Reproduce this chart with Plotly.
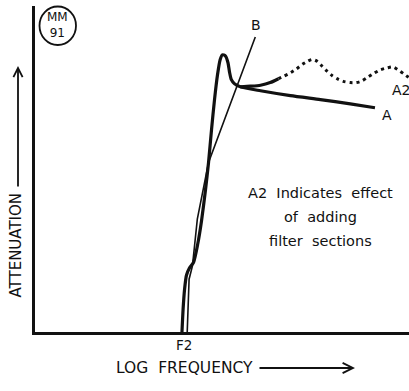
import plotly.graph_objects as go

# Axis units: log frequency 0-100 along x, attenuation 0-100 up y
curve_a_x = [39.3, 39.6, 40.0, 40.5, 41.3, 42.4, 43.5, 44.5, 45.6, 46.4, 47.2, 48.0,
             48.8, 49.5, 50.1, 50.9, 51.6, 52.0, 52.5, 53.3, 54.9, 60.3, 68.3, 76.3,
             84.3, 90.9]
curve_a_y = [0.0, 7.0, 13.2, 17.4, 19.6, 21.4, 26.9, 33.9, 43.7, 52.0, 62.1, 71.3,
             78.9, 83.5, 85.0, 84.7, 82.6, 79.8, 77.4, 76.2, 75.2, 74.0, 72.5, 71.3,
             70.0, 68.8]

a2_solid_x = [54.9, 57.6, 60.3, 62.9, 65.1]
a2_solid_y = [75.2, 75.4, 75.7, 76.5, 77.7]

a2_dotted_x = [65.1, 66.4, 68.3, 69.9, 71.5, 72.8, 74.1, 75.5, 76.8, 78.1, 79.5, 80.8,
               82.4, 84.3, 85.9, 87.2, 88.8, 90.4, 92.3, 94.1, 95.7, 97.1, 98.7, 100.0]
a2_dotted_y = [77.7, 78.4, 79.5, 80.7, 82.1, 83.0, 83.6, 83.0, 81.5, 80.0, 78.6, 77.7,
               76.9, 76.5, 76.5, 76.9, 78.0, 79.2, 80.4, 81.0, 81.3, 80.4, 79.1, 78.0]

line_b_x = [40.7, 41.2, 42.1, 43.4, 46.4, 58.9]
line_b_y = [0.0, 16.2, 20.3, 34.6, 52.0, 90.5]

curve_labels = ["B", "A", "A2"]
curve_label_x = [59.2, 94.1, 95.0]
curve_label_y = [94.2, 66.7, 74.3]

note_lines = ["A2\u00a0 Indicates\u00a0 effect", "of\u00a0 adding", "filter\u00a0 sections"]
note_x = 76.3
note_y = [42.6, 35.3, 27.9]

cutoff_label = "F2"

ink = "#111111"
font = "DejaVu Sans"

# plot area in page pixels, used to place the outer titles in paper units
left, top, width, height = 35, 6, 374, 326


def px(x):
    return (x - left) / width


def py(y):
    return (top + height - y) / height


fig = go.Figure()
fig.add_trace(go.Scatter(x=curve_a_x, y=curve_a_y, mode="lines",
                         line=dict(color=ink, width=3.2, shape="spline", smoothing=0.6)))
fig.add_trace(go.Scatter(x=a2_solid_x, y=a2_solid_y, mode="lines",
                         line=dict(color=ink, width=3.2, shape="spline", smoothing=0.6)))
fig.add_trace(go.Scatter(x=a2_dotted_x, y=a2_dotted_y, mode="lines",
                         line=dict(color=ink, width=3, dash="3px,4px",
                                   shape="spline", smoothing=0.8)))
fig.add_trace(go.Scatter(x=line_b_x, y=line_b_y, mode="lines",
                         line=dict(color=ink, width=1.6)))

annotations = []
for t, x, y in zip(curve_labels, curve_label_x, curve_label_y):
    annotations.append(dict(x=x, y=y, text=t, showarrow=False,
                            xanchor="left" if t == "A2" else "center",
                            font=dict(family=font, size=14, color=ink)))
for t, y in zip(note_lines, note_y):
    annotations.append(dict(x=note_x, y=y, text=t, showarrow=False,
                            font=dict(family=font, size=14.5, color=ink)))

# labels and arrows that sit outside the plot area
outer = dict(xref="paper", yref="paper", xanchor="center", yanchor="middle")
annotations.append(dict(**outer, x=px(184), y=py(345), text=cutoff_label,
                        showarrow=False, font=dict(family=font, size=13.5, color=ink)))
annotations.append(dict(**outer, x=px(15), y=py(245.5), text="ATTENUATION",
                        textangle=-90, showarrow=False,
                        font=dict(family=font, size=15, color=ink)))
annotations.append(dict(**outer, x=px(18), y=py(66), text="", showarrow=True,
                        ax=0, ay=122, arrowhead=5, arrowsize=1, arrowwidth=1.8,
                        arrowcolor=ink, standoff=0, startstandoff=0))
annotations.append(dict(xref="paper", yref="paper", xanchor="right", yanchor="middle",
                        x=px(255), y=py(368), text="LOG\u00a0 FREQUENCY",
                        showarrow=False, font=dict(family=font, size=15.5, color=ink)))
annotations.append(dict(**outer, x=px(355), y=py(368), text="", showarrow=True,
                        ax=-97, ay=0, arrowhead=5, arrowsize=1, arrowwidth=2,
                        arrowcolor=ink, standoff=0, startstandoff=0))

# drawing reference mark in the corner
annotations.append(dict(**outer, x=px(57.5), y=py(25), text="MM<br>91",
                        showarrow=False, font=dict(family=font, size=12, color=ink)))

shapes = [dict(type="circle", xref="paper", yref="paper",
               x0=px(39.5), x1=px(76), y0=py(45), y1=py(6.5),
               line=dict(color=ink, width=1.8))]

fig.update_layout(
    width=409, height=391,
    margin=dict(l=left, r=409 - left - width, t=top, b=391 - top - height),
    paper_bgcolor="white", plot_bgcolor="white",
    showlegend=False,
    annotations=annotations,
    shapes=shapes,
    xaxis=dict(range=[0, 100], showgrid=False, zeroline=False, showticklabels=False,
               ticks="", showline=True, linecolor=ink, linewidth=3),
    yaxis=dict(range=[0, 100], showgrid=False, zeroline=False, showticklabels=False,
               ticks="", showline=True, linecolor=ink, linewidth=3),
)

fig.write_html("out.html")
